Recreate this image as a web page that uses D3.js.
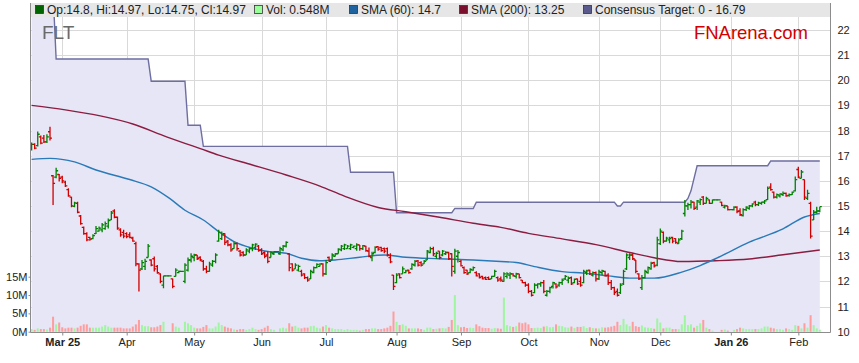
<!DOCTYPE html>
<html>
<head>
<meta charset="utf-8">
<script src="https://cdn.jsdelivr.net/npm/d3@7"></script>
<style>
  body { margin: 0; background: #fff; }
  #chart { font-family: Arial, "Liberation Sans", sans-serif; }
</style>
</head>
<body>
<div id="chart"></div>
<script>

// ---- data ----
var startDate = '2025-02-17';   // first bar, weekdays only

// [open, high, low, close]
var ohlc = [
  [17.3,17.52,17.2,17.45],[17.45,17.49,17.25,17.3],[17.4,17.96,17.36,17.85],[17.75,17.8,17.45,17.5],
  [17.7,17.82,17.5,17.55],[17.55,17.85,17.5,17.75],[17.95,18.15,17.6,17.7],[16.2,16.23,15.04,15.9],
  [16.15,16.52,16.1,16.4],[16.25,16.27,15.97,16.1],[16.15,16.2,15.9,16.0],[15.95,16.0,15.75,15.8],
  [15.65,15.7,15.37,15.4],[15.35,15.37,14.95,15.0],[14.98,15.17,14.95,15.12],[15.1,15.17,14.71,14.75],
  [14.6,14.64,14.25,14.3],[14.15,14.18,13.85,13.9],[13.9,13.95,13.6,13.65],[13.75,13.78,13.62,13.68],
  [13.7,13.87,13.68,13.82],[13.9,14.2,13.88,14.1],[14.0,14.18,13.98,14.12],[14.05,14.32,13.95,14.25],
  [14.1,14.38,14.05,14.3],[14.2,14.5,14.1,14.42],[14.45,14.8,14.44,14.72],[14.8,14.87,14.51,14.55],
  [14.55,14.58,14.05,14.12],[14.05,14.11,13.78,13.85],[13.95,14.05,13.72,13.8],[13.9,13.95,13.72,13.78],
  [13.85,13.95,13.72,13.75],[13.72,13.78,13.58,13.6],[13.5,13.58,12.6,12.7],[12.7,12.72,11.6,12.45],
  [12.5,12.85,12.45,12.75],[12.6,12.9,12.45,12.8],[12.95,13.49,12.95,13.4],[12.85,12.88,12.6,12.65],
  [12.9,12.99,12.39,12.5],[12.6,12.65,12.3,12.35],[12.3,12.32,11.93,12.0],[11.85,12.22,11.73,12.22],
  [12.22,12.22,12.22,12.22],[12.22,12.22,12.22,12.22],[12.1,12.12,11.73,11.8],[12.2,12.52,12.19,12.45],
  [12.35,12.43,12.32,12.4],[12.4,12.4,12.4,12.4],[12.0,12.72,11.93,12.65],[12.45,12.95,12.39,12.85],
  [12.85,13.12,12.75,13.0],[12.95,13.1,12.8,13.05],[13.05,13.05,12.85,12.9],[12.95,13.0,12.8,12.85],
  [12.8,12.85,12.42,12.5],[12.5,12.62,12.32,12.4],[12.4,12.78,12.38,12.7],[12.65,12.85,12.58,12.8],
  [12.8,13.12,12.72,13.05],[13.6,14.05,13.58,13.95],[13.7,13.98,13.65,13.85],[13.9,13.91,13.45,13.55],
  [13.6,13.65,13.4,13.45],[13.45,13.52,13.18,13.25],[13.3,13.58,13.3,13.5],[13.5,13.55,13.22,13.3],
  [13.2,13.25,12.99,13.05],[13.15,13.2,12.99,13.05],[13.05,13.32,13.05,13.25],[13.2,13.35,13.12,13.3],
  [13.3,13.5,13.2,13.45],[13.35,13.52,13.25,13.48],[13.4,13.45,13.18,13.22],[13.25,13.32,13.05,13.1],
  [13.15,13.2,12.92,13.0],[13.05,13.2,12.72,12.8],[12.95,13.2,12.95,13.15],[13.1,13.2,13.05,13.18],
  [13.18,13.18,13.18,13.18],[13.1,13.38,13.05,13.3],[13.25,13.45,13.2,13.4],[13.4,13.6,13.35,13.55],
  [13.1,13.12,12.4,12.55],[12.7,12.72,12.39,12.45],[12.5,12.72,12.5,12.65],[12.45,12.66,12.39,12.6],
  [12.4,12.46,12.19,12.25],[12.3,12.32,12.1,12.15],[12.15,12.19,11.99,12.05],[12.1,12.46,12.1,12.4],
  [12.35,12.59,12.32,12.55],[12.55,12.72,12.52,12.68],[12.6,12.72,12.59,12.7],[12.7,12.72,12.19,12.3],
  [12.3,12.85,12.25,12.75],[12.95,12.99,12.78,12.8],[12.85,13.12,12.85,13.05],[13.0,13.12,12.99,13.1],
  [13.1,13.32,13.1,13.28],[13.25,13.45,13.2,13.4],[13.3,13.5,13.25,13.45],[13.3,13.45,13.3,13.4],
  [13.3,13.5,13.25,13.45],[13.35,13.42,13.32,13.4],[13.3,13.52,13.22,13.45],[13.45,13.45,13.22,13.3],
  [13.3,13.45,13.25,13.42],[13.4,13.42,13.18,13.22],[13.2,13.35,12.96,13.0],[12.95,13.18,12.8,13.1],
  [13.15,13.4,13.12,13.35],[13.38,13.4,13.22,13.28],[13.35,13.38,13.18,13.22],[13.3,13.35,13.12,13.2],
  [13.3,13.35,12.99,13.05],[12.95,13.12,12.72,12.78],[12.25,12.25,11.66,11.8],[11.95,12.32,11.93,12.25],
  [12.3,12.32,12.12,12.15],[12.3,12.59,12.3,12.5],[12.35,12.46,12.32,12.42],[12.45,12.46,12.3,12.35],
  [12.5,12.72,12.46,12.68],[12.65,12.85,12.59,12.8],[12.82,12.85,12.59,12.65],[12.75,12.8,12.59,12.65],
  [12.7,12.85,12.7,12.8],[12.85,13.25,12.85,13.2],[13.15,13.38,13.12,13.3],[13.3,13.38,13.0,13.1],
  [13.0,13.18,12.9,13.12],[13.2,13.2,12.88,12.95],[13.05,13.25,13.0,13.2],[13.1,13.2,13.05,13.15],
  [13.15,13.18,12.85,12.9],[13.1,13.12,12.19,12.6],[12.4,13.3,12.3,13.2],[13.0,13.25,12.75,13.15],
  [12.8,12.85,12.59,12.62],[12.55,12.59,12.3,12.35],[12.45,12.46,12.25,12.3],[12.35,12.52,12.32,12.48],
  [12.45,12.59,12.42,12.55],[12.35,12.4,12.19,12.22],[12.3,12.32,12.12,12.15],[12.2,12.22,12.08,12.1],
  [12.15,12.19,12.06,12.08],[12.15,12.19,12.06,12.08],[12.1,12.22,12.1,12.2],[12.2,12.46,12.19,12.4],
  [12.15,12.19,11.99,12.05],[12.1,12.19,11.99,12.05],[12.0,12.36,11.99,12.3],[12.2,12.36,12.12,12.3],
  [12.25,12.36,12.1,12.3],[12.3,12.32,12.19,12.22],[12.2,12.34,12.12,12.3],[12.3,12.3,12.12,12.15],
  [12.05,12.06,11.93,11.95],[11.95,11.99,11.79,11.85],[11.85,11.93,11.53,11.6],[11.6,11.66,11.4,11.45],
  [11.55,11.93,11.53,11.85],[11.85,11.93,11.72,11.9],[11.9,11.99,11.79,11.95],[11.95,12.06,11.53,11.6],
  [11.45,11.66,11.4,11.6],[11.6,11.79,11.53,11.75],[11.8,11.99,11.72,11.95],[11.9,11.93,11.72,11.78],
  [11.85,11.99,11.79,11.95],[11.95,12.12,11.86,12.05],[12.1,12.25,12.06,12.2],[12.05,12.19,11.93,12.12],
  [12.15,12.19,11.86,11.9],[11.95,12.12,11.93,12.08],[12.1,12.12,11.86,11.9],[12.0,12.19,11.79,11.85],
  [11.95,12.46,11.93,12.4],[12.35,12.46,12.25,12.42],[12.45,12.46,12.25,12.3],[12.25,12.39,12.19,12.35],
  [12.35,12.39,12.0,12.1],[12.1,12.46,12.06,12.38],[12.35,12.46,12.25,12.42],[12.4,12.42,12.19,12.22],
  [12.25,12.32,11.86,11.95],[11.95,12.06,11.66,11.75],[11.75,11.79,11.46,11.55],[11.6,11.72,11.4,11.45],
  [11.55,11.93,11.5,11.85],[11.9,12.46,11.86,12.4],[12.5,13.12,12.45,13.05],[12.95,13.12,12.85,13.05],
  [13.05,13.12,12.85,12.9],[12.85,12.85,12.32,12.4],[12.3,12.32,12.06,12.1],[11.75,12.25,11.66,12.15],
  [12.15,12.46,12.12,12.4],[12.35,12.59,12.3,12.55],[12.5,12.78,12.46,12.72],[12.75,12.78,12.55,12.62],
  [12.65,13.78,12.6,13.65],[13.5,14.1,13.45,14.0],[13.95,13.98,13.52,13.6],[13.6,13.78,13.58,13.72],
  [13.65,13.78,13.52,13.7],[13.75,13.78,13.52,13.6],[13.7,13.72,13.5,13.55],[13.5,13.72,13.5,13.65],
  [13.7,14.05,13.65,14.0],[14.7,15.24,14.58,15.0],[15.0,15.13,14.84,15.05],[15.05,15.24,14.9,15.15],
  [15.15,15.17,14.84,14.9],[14.95,15.24,14.84,15.2],[15.15,15.3,15.04,15.25],[15.35,15.4,15.04,15.1],
  [15.1,15.37,15.1,15.3],[15.24,15.26,15.08,15.1],[15.1,15.26,15.1,15.24],[15.24,15.24,15.24,15.24],
  [15.24,15.24,15.24,15.24],[15.15,15.17,14.99,15.02],[14.95,15.05,14.9,15.0],[15.0,15.0,14.82,14.85],
  [14.85,14.85,14.85,14.85],[14.85,14.99,14.82,14.95],[14.95,14.99,14.71,14.78],[14.8,14.91,14.6,14.65],
  [14.62,14.91,14.58,14.85],[14.85,14.99,14.8,14.95],[14.9,15.04,14.85,15.0],[15.0,15.11,14.95,15.08],
  [15.15,15.21,14.99,15.05],[15.05,15.17,15.0,15.12],[15.1,15.17,15.05,15.15],[15.15,15.24,15.08,15.2],
  [15.25,15.77,15.24,15.7],[15.75,15.9,15.6,15.65],[15.55,15.57,15.3,15.35],[15.35,15.5,15.3,15.45],
  [15.4,15.5,15.34,15.48],[15.45,15.57,15.4,15.5],[15.5,15.53,15.37,15.4],[15.42,15.5,15.37,15.45],
  [15.45,15.57,15.44,15.55],[15.6,16.17,15.57,16.05],[16.45,16.56,16.1,16.15],[16.1,16.43,16.1,16.35],
  [16.05,16.05,15.24,15.35],[15.3,15.64,15.24,15.5],[15.1,15.17,13.71,13.8],[14.45,14.84,14.44,14.75],
  [14.75,14.97,14.7,14.8],[14.8,14.97,14.75,14.97]
];

// daily volume, millions of shares
var volume = [
  0.7,0.5,0.9,0.7,0.7,0.6,1.1,4.1,2.0,2.5, 1.2,0.9,1.1,1.1,0.9,1.1,1.6,2.0,2.0,1.1,
  1.1,1.1,1.1,1.4,1.8,1.4,1.1,1.1,1.1,1.1, 0.9,0.9,0.9,1.4,2.0,3.2,1.8,1.5,1.5,1.2,
  1.2,1.4,1.8,2.7,0,0,2.3,1.4,1.1,0, 2.7,2.3,1.8,1.1,0.9,0.9,1.3,1.8,0.9,0.9,
  1.4,2.5,1.8,1.4,1.1,0.9,0.6,0.5,0.7,0.7, 0.5,0.7,1.1,0.7,0.5,0.7,1.1,1.6,0.7,0.5,
  0,0.9,1.1,0.9,2.3,1.4,1.6,1.1,0.9,1.1, 1.1,1.5,1.6,1.1,0.9,1.4,1.8,1.1,0.9,0.7,
  0.7,0.7,0.5,0.7,0.5,0.5,0.5,0.3,0.5,0.7, 0.7,0.9,0.9,0.7,0.7,0.9,1.1,1.6,5.5,2.7,
  1.8,2.0,1.6,0.9,0.9,0.9,0.9,0.7,0.5,1.1, 1.1,0.7,0.8,0.9,1.0,0.9,1.3,3.2,10.0,1.8,
  1.2,1.3,1.0,1.1,1.0,2.0,1.5,1.1,1.0,1.0, 0.8,1.0,0.9,0.8,9.3,1.8,1.5,1.3,1.5,2.5,
  2.3,2.5,2.0,1.0,1.0,1.1,1.0,1.4,1.5,1.2, 1.3,2.0,1.6,1.5,1.2,1.1,1.4,1.0,1.3,1.3,
  1.5,1.0,1.2,1.0,0.9,0.9,1.2,1.1,1.2,1.4, 1.6,2.7,1.8,3.5,2.0,1.5,2.7,1.5,1.3,1.7,
  1.2,1.1,1.0,0.8,3.6,2.5,0.9,1.1,1.1,0.7, 0.7,0.7,2.0,4.5,1.8,2.0,1.1,1.6,2.3,3.2,
  1.1,0.7,0.3,0,0,0.5,0.6,0.3,0,0.5, 0.7,1.1,0.9,0.7,0.7,0.7,0.7,0.7,0.9,1.4,
  1.4,1.1,0.9,0.7,0.7,0.5,0.9,0.7,0.5,1.8, 1.6,0.9,2.3,1.1,4.5,1.8,0.9,0.548
];

// [bar index, value]
var sma60 = [
  [0,16.85],[6,16.89],[14,16.75],[21,16.43],[32,16.05],[39,15.76],[45,15.3],[50,14.83],
  [56,14.44],[61,13.98],[66,13.58],[72,13.32],[77,13.19],[83,13.12],[88,12.92],[94,12.82],
  [99,12.85],[107,12.96],[115,13.05],[122,12.96],[133,12.9],[144,12.85],[153,12.79],[158,12.75],
  [164,12.59],[173,12.39],[180,12.33],[188,12.22],[195,12.13],[203,12.13],[212,12.37],[218,12.63],
  [224,12.96],[234,13.56],[245,14.09],[252,14.56],[257,14.7]
];
var sma200 = [
  [0,19.0],[11,18.82],[22,18.59],[33,18.26],[44,17.75],[50,17.49],[55,17.28],[61,17.02],
  [72,16.63],[83,16.23],[94,15.79],[102,15.39],[113,14.94],[122,14.77],[133,14.55],[144,14.31],
  [153,14.15],[162,13.91],[173,13.69],[184,13.46],[195,13.15],[203,12.94],[212,12.79],[223,12.82],
  [234,12.89],[245,13.06],[257,13.25]
];
var target = [
  [0,23.5],[7,23.5],[8,20.84],[38,20.84],[39,19.96],[50,19.96],[51,18.21],[55,18.21],
  [56,17.37],[103,17.37],[104,16.34],[118,16.34],[119,14.73],[137,14.73],[138,14.9],[144,14.9],
  [145,15.15],[190,15.15],[191,15.0],[192,15.0],[193,15.15],[213,15.15],[214,15.3],[215,15.6],
  [217,16.6],[240,16.6],[241,16.79],[257,16.79]
];

var priceTicks = [10,11,12,13,14,15,16,17,18,19,20,21,22];
var volumeTicks = [0,5,10,15];
var monthLabels = ['Mar 25','Apr','May','Jun','Jul','Aug','Sep','Oct','Nov','Dec','Jan 26','Feb'];
var legendItems = [
  { text: 'Op:14.8, Hi:14.97, Lo:14.75, Cl:14.97', color: '#006400' },
  { text: 'Vol: 0.548M', color: '#99ff99' },
  { text: 'SMA (60): 14.7', color: '#1f64a0' },
  { text: 'SMA (200): 13.25', color: '#7a0f2e' },
  { text: 'Consensus Target: 0 - 16.79', color: '#5a5a8c' }
];

// ---- layout ----
var width = 859, height = 363;
var plot = { left: 30, right: 830, top: 3, bottom: 332 };

var svg = d3.select('#chart').append('svg')
  .attr('width', width)
  .attr('height', height);

var x = d3.scaleLinear().domain([0, ohlc.length - 1]).range([31.6, 819.8]);
var y = d3.scaleLinear().domain([10, 22]).range([331.7, 29.9]);
var yv = d3.scaleLinear().domain([0, 15]).range([331.7, 276.7]);

// trading days (weekdays) and first bar of every month
var dates = [];
var d = new Date(startDate + 'T00:00:00');
while (dates.length < ohlc.length) {
  if (d.getDay() !== 0 && d.getDay() !== 6) dates.push(new Date(d));
  d.setDate(d.getDate() + 1);
}
var monthIdx = [];
dates.forEach(function (dt, i) {
  if (i > 0 && dt.getMonth() !== dates[i - 1].getMonth()) monthIdx.push(i);
});

svg.append('defs').append('clipPath').attr('id', 'clip')
  .append('rect')
  .attr('x', plot.left).attr('y', plot.top)
  .attr('width', plot.right - plot.left).attr('height', plot.bottom - plot.top);

var inner = svg.append('g').attr('clip-path', 'url(#clip)');

// Gridlines
inner.selectAll('line.hgrid')
    .data(priceTicks.slice(1))
    .enter()
  .append('line')
    .attr('x1', plot.left).attr('x2', plot.right)
    .attr('y1', function (p) { return Math.round(y(p)) + 0.5; })
    .attr('y2', function (p) { return Math.round(y(p)) + 0.5; })
    .attr('stroke', '#d9d9d9');

inner.selectAll('line.vgrid')
    .data(monthIdx)
    .enter()
  .append('line')
    .attr('x1', function (i) { return Math.round(x(i)) + 0.5; })
    .attr('x2', function (i) { return Math.round(x(i)) + 0.5; })
    .attr('y1', plot.top).attr('y2', plot.bottom)
    .attr('stroke', '#d9d9d9');

// Consensus target, filled down to the axis
var area = d3.area()
  .x(function (p) { return x(p[0]); })
  .y0(plot.bottom)
  .y1(function (p) { return y(p[1]); });

inner.append('path')
  .datum(target)
  .attr('d', area)
  .attr('fill', '#e6e6f6');

inner.append('path')
  .datum(target)
  .attr('d', d3.line().x(function (p) { return x(p[0]); }).y(function (p) { return y(p[1]); }))
  .attr('fill', 'none')
  .attr('stroke', '#6e6ea0')
  .attr('stroke-width', 1.4);

// Volume
function barColor(r) {
  if (r[3] > r[0]) return 'up';
  if (r[3] < r[0]) return 'down';
  return 'flat';
}
var volFill = { up: '#a0f5a0', down: '#ff9c9c', flat: '#8c8c8c' };

inner.selectAll('rect.vol')
    .data(volume)
    .enter()
  .append('rect')
    .attr('x', function (v, i) { return x(i) - 1; })
    .attr('y', function (v) { return yv(v); })
    .attr('width', 2)
    .attr('height', function (v) { return yv(0) - yv(v); })
    .attr('fill', function (v, i) { return volFill[barColor(ohlc[i])]; });

// Moving averages
var smaLine = d3.line()
  .curve(d3.curveMonotoneX)
  .x(function (p) { return x(p[0]); })
  .y(function (p) { return y(p[1]); });

inner.append('path').datum(sma200).attr('d', smaLine)
  .attr('fill', 'none').attr('stroke', '#8c1c40').attr('stroke-width', 1.4);
inner.append('path').datum(sma60).attr('d', smaLine)
  .attr('fill', 'none').attr('stroke', '#2a7ab8').attr('stroke-width', 1.4);

// OHLC bars
var barStroke = { up: '#008000', down: '#d00000', flat: '#008000' };
inner.selectAll('path.ohlc')
    .data(ohlc)
    .enter()
  .append('path')
    .attr('d', function (r, i) {
      var cx = x(i);
      return 'M' + cx + ',' + y(r[1]) + 'V' + y(r[2]) +
        'M' + (cx - 2) + ',' + y(r[0]) + 'H' + cx +
        'M' + cx + ',' + y(r[3]) + 'H' + (cx + 2);
    })
    .attr('fill', 'none')
    .attr('stroke', function (r) { return barStroke[barColor(r)]; })
    .attr('stroke-width', 1.3);

// Frame
svg.append('path')
  .attr('d', 'M' + (plot.left + 0.5) + ',' + plot.top + 'V' + (plot.bottom + 0.5) +
    'H' + (plot.right + 0.5) + 'V' + plot.top)
  .attr('fill', 'none')
  .attr('stroke', '#8c8c8c');

// Axes
var axisFont = function (g) {
  g.select('.domain').remove();
  g.selectAll('text').attr('font-size', 11).attr('fill', '#222')
    .attr('font-family', 'Arial, "Liberation Sans", sans-serif');
  g.selectAll('line').attr('stroke', '#8c8c8c');
};

svg.append('g')
    .attr('transform', 'translate(' + (plot.right + 0.5) + ',0)')
    .call(d3.axisRight(y).tickValues(priceTicks).tickSize(0).tickPadding(7))
    .call(axisFont);

svg.append('g')
    .attr('transform', 'translate(' + (plot.left + 0.5) + ',0)')
    .call(d3.axisLeft(yv).tickValues(volumeTicks).tickSize(2)
      .tickFormat(function (v) { return v + 'M'; }).tickPadding(1))
    .call(axisFont);

svg.append('g')
    .attr('transform', 'translate(0,' + (plot.bottom + 0.5) + ')')
    .call(d3.axisBottom(x).tickValues(monthIdx).tickSize(3).tickPadding(3)
      .tickFormat(function (i, k) { return monthLabels[k]; }))
    .call(axisFont)
    .selectAll('text')
    .attr('font-weight', function (i, k) { return /\d/.test(monthLabels[k]) ? 'bold' : 'normal'; });

// Legend bar
var legend = svg.append('g');
legend.append('rect')
  .attr('x', plot.left + 1).attr('y', plot.top)
  .attr('width', plot.right - plot.left - 1).attr('height', 14)
  .attr('fill', '#e6e6e6');

var legendX = [35, 254, 349, 459, 583];
legendItems.forEach(function (it, k) {
  legend.append('rect')
    .attr('x', legendX[k] + 0.5).attr('y', 5.5)
    .attr('width', 8).attr('height', 8)
    .attr('fill', it.color)
    .attr('stroke', '#333').attr('stroke-width', 0.8);
  legend.append('text')
    .attr('x', legendX[k] + 12).attr('y', 14)
    .attr('font-size', 12)
    .attr('fill', '#222')
    .attr('font-family', 'Arial, "Liberation Sans", sans-serif')
    .text(it.text);
});

// Titles
svg.append('text')
  .attr('x', 42).attr('y', 39)
  .attr('font-size', 19)
  .attr('fill', '#6a6a6a')
  .attr('font-family', 'Arial, "Liberation Sans", sans-serif')
  .text('FLT');

svg.append('text')
  .attr('x', 808).attr('y', 39)
  .attr('text-anchor', 'end')
  .attr('font-size', 18.5)
  .attr('fill', '#d40000')
  .attr('font-family', 'Arial, "Liberation Sans", sans-serif')
  .text('FNArena.com');

</script>
</body>
</html>
